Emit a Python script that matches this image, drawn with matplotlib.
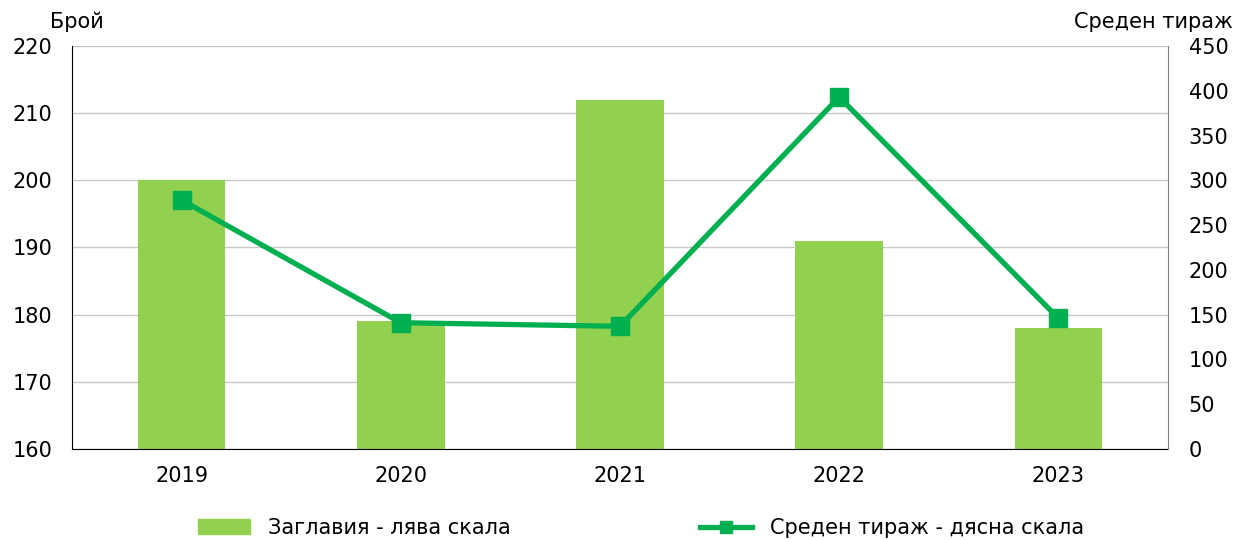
import matplotlib.pyplot as plt
from matplotlib.lines import Line2D
from matplotlib.patches import Patch

years = ["2019", "2020", "2021", "2022", "2023"]
titles = [200, 179, 212, 191, 178]
circulation = [278, 141, 137, 393, 146]

bar_color = "#92D050"
line_color = "#00B050"

plt.rcParams['font.family'] = ['DejaVu Sans']
fs = 15

fig = plt.figure(figsize=(12.36, 5.4), dpi=100)
ax = fig.add_axes([72 / 1236, 1 - 449 / 540, 1096 / 1236, 403 / 540])
x = range(len(years))

ax.bar(x, titles, width=0.4, color=bar_color, zorder=2)
ax.set_ylim(160, 220)
ax.set_yticks(range(160, 221, 10))
ax.set_xlim(-0.5, 4.5)
ax.set_xticks(list(x))
ax.set_xticklabels(years)
ax.set_axisbelow(True)
ax.yaxis.grid(True, color="#C8C8C8", linewidth=1)
ax.tick_params(axis="y", length=0, pad=14, labelsize=fs)
ax.tick_params(axis="x", length=0, pad=12, labelsize=fs)
ax.spines["top"].set_visible(False)
ax.spines["right"].set_visible(False)
ax.spines["left"].set_color("black")
ax.spines["bottom"].set_color("black")

ax2 = ax.twinx()
ax2.plot(x, circulation, color=line_color, linewidth=3.8, marker="s",
         markersize=12.5, zorder=3)
ax2.set_ylim(0, 450)
ax2.set_yticks(range(0, 451, 50))
ax2.tick_params(axis="y", length=0, pad=15, labelsize=fs)
ax2.spines["top"].set_visible(False)
ax2.spines["left"].set_visible(False)
ax2.spines["bottom"].set_visible(False)
ax2.spines["right"].set_color("#808080")

fig.text(50 / 1236, 1 - 22 / 540, "Брой", fontsize=fs, va="center", ha="left")
fig.text(1233 / 1236, 1 - 22 / 540, "Среден тираж", fontsize=fs, va="center", ha="right")

handles = [Patch(color=bar_color),
           Line2D([0], [0], color=line_color, linewidth=3.8, marker="s", markersize=9)]
labels = ["Заглавия - лява скала", "Среден тираж - дясна скала"]
fig.legend(handles, labels, loc="center left", bbox_to_anchor=(198 / 1236, 1 - 528 / 540),
           ncol=2, frameon=False, fontsize=fs, columnspacing=9.1, handlelength=2.5,
           handletextpad=0.85, borderpad=0, borderaxespad=0)

fig.savefig("out.png", dpi=100)
